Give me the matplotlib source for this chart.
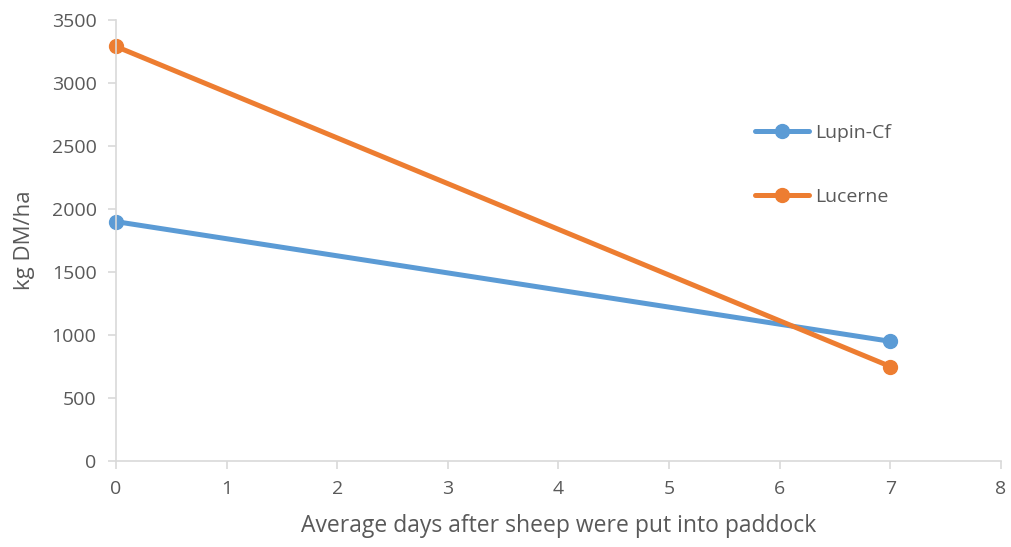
import matplotlib
matplotlib.use("Agg")
import matplotlib.pyplot as plt

days = [0, 7]
lupin_cf = [1900, 950]
lucerne = [3290, 750]
series_names = ["Lupin-Cf", "Lucerne"]
x_ticks = [0, 1, 2, 3, 4, 5, 6, 7, 8]
y_ticks = [0, 500, 1000, 1500, 2000, 2500, 3000, 3500]

plt.rcParams['font.family'] = ['Open Sans', 'DejaVu Sans']
gray = '#595959'
spine = '#d9d9d9'

fig = plt.figure(figsize=(10.11, 5.47), dpi=100)
ax = fig.add_axes([0.1147, 0.1572, 0.8754, 0.8062])

ax.plot(days, lupin_cf, color='#5b9bd5', lw=3.6, marker='o', ms=10, label=series_names[0], solid_capstyle='round')
ax.plot(days, lucerne, color='#ed7d31', lw=3.6, marker='o', ms=10, label=series_names[1], solid_capstyle='round')

ax.set_xlim(0, 8)
ax.set_ylim(0, 3500)
ax.set_xticks(x_ticks)
ax.set_yticks(y_ticks)
for s in ['top', 'right']:
    ax.spines[s].set_visible(False)
for s in ['left', 'bottom']:
    ax.spines[s].set_color(spine)
    ax.spines[s].set_linewidth(1.2)
ax.tick_params(axis='both', colors=spine, length=6, width=1.2, labelsize=14, labelcolor=gray, pad=8)
ax.set_xlabel('Average days after sheep were put into paddock', fontsize=16.5, color=gray, labelpad=11)
ax.set_ylabel('kg DM/ha', fontsize=16, color=gray, labelpad=12)
for c in ax.lines:
    c.set_clip_on(False)

leg = ax.legend(loc='upper left', bbox_to_anchor=(0.702, 0.805), frameon=False, fontsize=14,
                labelspacing=2.4, handlelength=2.8, handletextpad=0.3, labelcolor=gray)

fig.savefig('out.png', dpi=100)
